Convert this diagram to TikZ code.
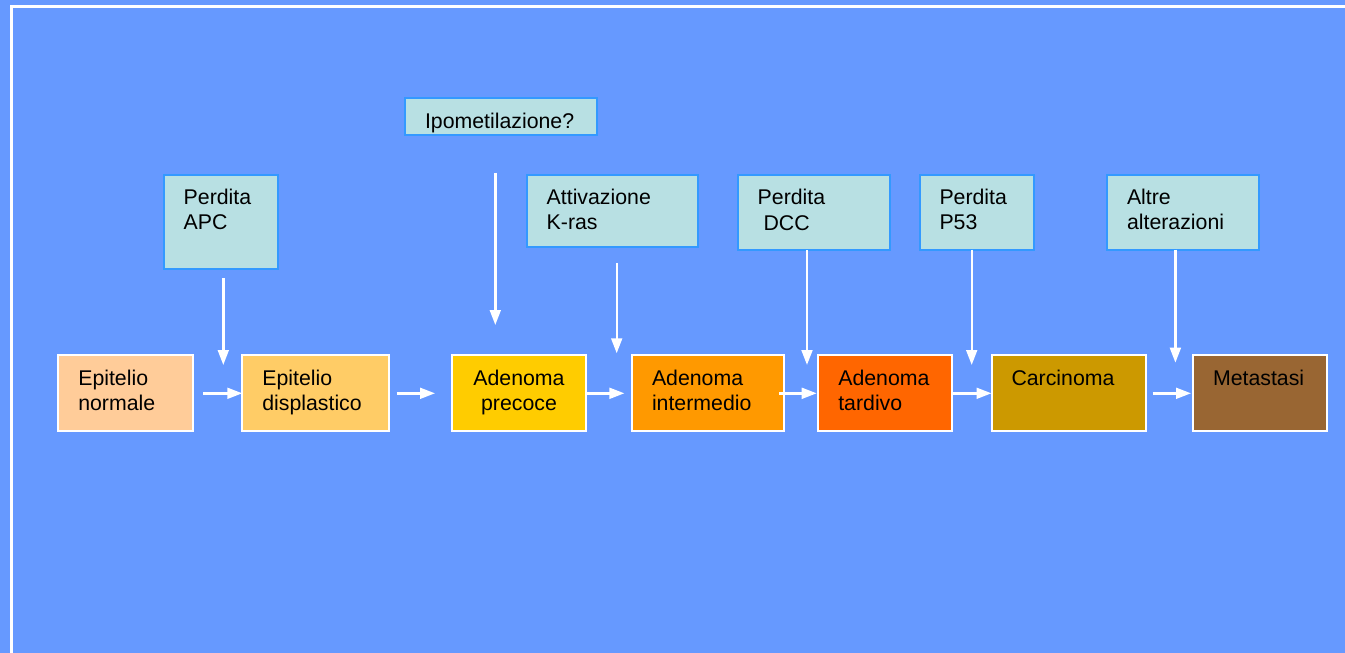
\documentclass[tikz,border=0pt]{standalone}
\usepackage{fontspec}
\setmainfont{Liberation Sans}
\usetikzlibrary{arrows.meta}
\definecolor{slide}{HTML}{6699FF}
\definecolor{causefill}{HTML}{B8E0E3}
\definecolor{causeline}{HTML}{3399FF}
\definecolor{normale}{HTML}{FFCC99}
\definecolor{displastico}{HTML}{FFCC66}
\definecolor{precoce}{HTML}{FFCC00}
\definecolor{intermedio}{HTML}{FF9900}
\definecolor{tardivo}{HTML}{FF6600}
\definecolor{carcinoma}{HTML}{CC9900}
\definecolor{metastasi}{HTML}{996633}
\tikzset{
  stagebox/.style={draw=white,line width=1pt,anchor=north west,outer sep=0pt,
    inner xsep=10pt,inner ysep=0pt,align=left,text height=14.85pt,text depth=23.15pt},
  cause/.style={stagebox,draw=causeline,fill=causefill,text height=14.65pt,text depth=22.7pt},
  flow/.style={draw=white,line width=1.2pt,-{Triangle[length=7.5pt,width=5.4pt]}},
  frame/.style={draw=white,line width=1.6pt}
}

\begin{document}
\begin{tikzpicture}[x=0.5pt,y=-0.5pt,font=\fontsize{10.65pt}{12.8pt}\selectfont]
  \useasboundingbox (0,0) rectangle (1345,653);
  \fill[slide] (0,0) rectangle (1345,653);
  \draw[frame] (11.7,653) -- (11.7,6.7) -- (1345,6.7);

  % alterazioni genetiche
  \node[cause,text width=37pt,text depth=32.35pt] (apc) at (163.7,175) {Perdita\\APC};
  \node[cause,text width=76pt,text height=15pt,text depth=3.35pt] (ipo) at (405,98.3) {Ipometilazione?};
  \node[cause,text width=65.65pt,text depth=21.5pt] (kras) at (526.7,175) {Attivazione\\K-ras};
  \node[cause,text width=56.15pt] (dcc) at (737.7,175.3) {Perdita\\\hspace*{2.9pt}DCC};
  \node[cause,text width=37pt] (p53) at (919.5,175) {Perdita\\P53};
  \node[cause,text width=55.9pt] (altre) at (1107,175) {Altre\\alterazioni};

  % stadi
  \node[stagebox,fill=normale,text width=47.5pt] (normale) at (58.3,355.3) {Epitelio\\normale};
  \node[stagebox,fill=displastico,text width=53.5pt] (displastico) at (242.3,355.3) {Epitelio\\displastico};
  \node[stagebox,fill=precoce,text width=47pt,align=center] (precoce) at (452,355.3) {Adenoma\\precoce};
  \node[stagebox,fill=intermedio,text width=55.85pt] (intermedio) at (632,355.3) {Adenoma\\intermedio};
  \node[stagebox,fill=tardivo,text width=46.85pt] (tardivo) at (818.3,355.3) {Adenoma\\tardivo};
  \node[stagebox,fill=carcinoma,text width=57pt] (carcinoma) at (991.5,355.3) {Carcinoma};
  \node[stagebox,fill=metastasi,text width=46.8pt] (metastasi) at (1193,355.3) {Metastasi};

  % punte delle frecce verticali
  \coordinate (apc-in) at (223.3,365);
  \coordinate (ipo-in) at (495.3,325);
  \coordinate (kras-in) at (616.7,353.3);
  \coordinate (dcc-in) at (807,365);
  \coordinate (p53-in) at (971.7,365);
  \coordinate (altre-in) at (1175.4,362.7);

  \draw[flow,shorten <=4.6pt] (apc.south -| apc-in) -- (apc-in);
  \draw[flow,shorten <=18.8pt] (ipo.south -| ipo-in) -- (ipo-in);
  \draw[flow,shorten <=8pt] (kras.south -| kras-in) -- (kras-in);
  \draw[flow] (dcc.south -| dcc-in) -- (dcc-in);
  \draw[flow] (p53.south -| p53-in) -- (p53-in);
  \draw[flow] (altre.south -| altre-in) -- (altre-in);

  % progressione
  \draw[flow,shorten <=5pt] (normale) -- (displastico);
  \draw[flow,shorten <=3.7pt,shorten >=8.5pt] (displastico) -- (precoce);
  \draw[flow,shorten >=3.8pt] (precoce) -- (intermedio);
  \draw[flow,shorten <=-2.2pt,shorten >=0.8pt] (intermedio) -- (tardivo);
  \draw[flow] (tardivo) -- (carcinoma);
  \draw[flow,shorten <=3.6pt,shorten >=1pt] (carcinoma) -- (metastasi);
\end{tikzpicture}
\end{document}
